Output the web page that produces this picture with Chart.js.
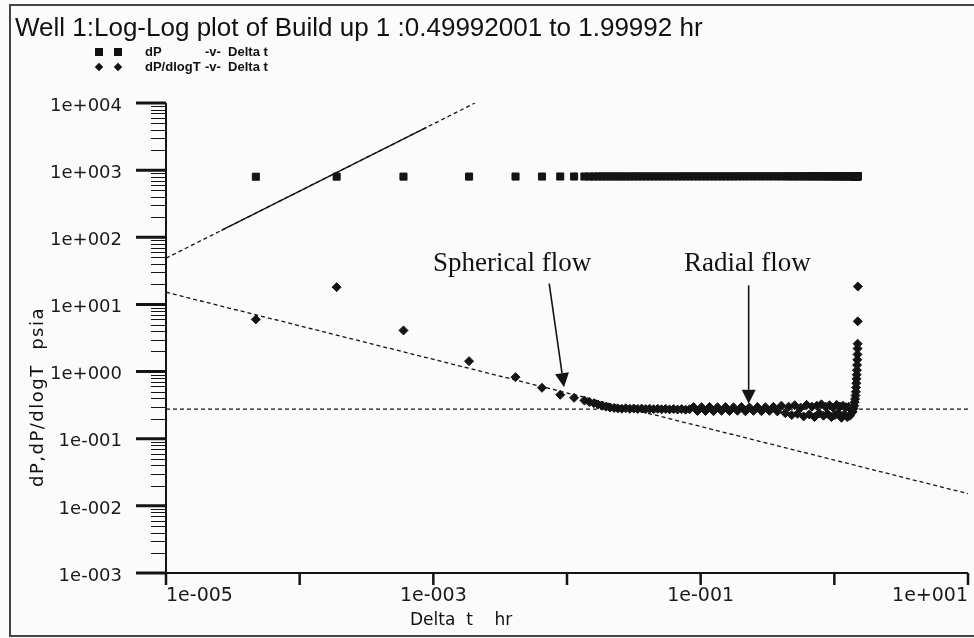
<!DOCTYPE html>
<html lang="en">
<head>
<meta charset="UTF-8">
<title>Well 1 Log-Log plot</title>
<script src="https://cdn.jsdelivr.net/npm/chart.js"></script>
<style>
  html, body { margin: 0; padding: 0; background: #fbfbfb; overflow: hidden; }
  .wrap { position: relative; width: 974px; height: 638px; }
  .frame { position: absolute; left: 9px; top: 4px; width: 990px; height: 633px; border: 2px solid #444; box-sizing: border-box; }
  canvas { position: absolute; left: 0; top: 0; }
  .txt { position: absolute; white-space: pre; color: #111; pointer-events: none; }
  .title { left: 15px; top: 12px; font: 26px/30px "Liberation Sans", Arial, sans-serif; }
  .leg { font: bold 13px/14px "Liberation Sans", Arial, sans-serif; }
  .sq { position: absolute; width: 8px; height: 8px; background: #111; }
  .dm { position: absolute; width: 6px; height: 6px; background: #111; transform: rotate(45deg); }
  .ytitle { left: 36px; top: 397px; transform: translate(-50%, -50%) rotate(-90deg); font: 18px "DejaVu Sans", sans-serif; letter-spacing: 1.5px; }
  .xtitle { left: 410px; top: 609px; font: 17px "DejaVu Sans", sans-serif; }
  .note { font: 27px/27px "Liberation Serif", "Times New Roman", serif; }
</style>
</head>
<body>
<div class="wrap">
  <canvas id="plot" width="974" height="638"></canvas>
  <div class="frame"></div>
  <div class="txt title">Well 1:Log-Log plot of Build up 1 :0.49992001 to 1.99992 hr</div>
  <div class="sq" style="left:95px;top:48px"></div>
  <div class="sq" style="left:114px;top:48px"></div>
  <div class="dm" style="left:96px;top:64px"></div>
  <div class="dm" style="left:115px;top:64px"></div>
  <div class="txt leg" style="left:145px;top:45px">dP</div>
  <div class="txt leg" style="left:205px;top:45px">-v-  Delta t</div>
  <div class="txt leg" style="left:145px;top:60px">dP/dlogT</div>
  <div class="txt leg" style="left:205px;top:60px">-v-  Delta t</div>
  <div class="txt ytitle">dP,dP/dlogT  psia</div>
  <div class="txt xtitle">Delta  t    hr</div>
  <div class="txt note" style="left:433px;top:249px">Spherical flow</div>
  <div class="txt note" style="left:684px;top:249px">Radial flow</div>
</div>
<script>
// Delta t (hr), shared by both series
const deltaT = [
  0.000047, 0.000189, 0.000598, 0.00185, 0.00412, 0.0065, 0.0089, 0.0113,
  0.0135, 0.0147, 0.0159, 0.0171, 0.0183, 0.0196, 0.021, 0.0225, 0.024, 0.0257,
  0.0275, 0.0295, 0.0316, 0.0338, 0.0362, 0.0388, 0.0415, 0.0445, 0.0477, 0.051,
  0.0547, 0.0585, 0.0627, 0.0672, 0.072, 0.0771, 0.0826, 0.0885, 0.0948, 0.1015,
  0.1088, 0.1165, 0.1248, 0.1337, 0.1432, 0.1534, 0.1643, 0.176, 0.1885, 0.2019,
  0.2163, 0.2317, 0.2482, 0.2659, 0.2848, 0.3051, 0.3268, 0.35, 0.3749, 0.4016,
  0.43, 0.455, 0.48, 0.505, 0.53, 0.56, 0.59, 0.62, 0.65, 0.68,
  0.71, 0.74, 0.77, 0.8, 0.83, 0.86, 0.89, 0.92, 0.95, 0.98,
  1.01, 1.04, 1.07, 1.1, 1.13, 1.16, 1.19, 1.22, 1.25, 1.28,
  1.31, 1.34, 1.37, 1.39, 1.41, 1.42, 1.43, 1.44, 1.45, 1.455,
  1.46, 1.465, 1.47, 1.475, 1.48, 1.485, 1.49, 1.492, 1.494, 1.497, 1.5
];
// dP (psia)
const dP = [
  798, 800, 801, 802, 803, 803, 804, 804,
  804, 804, 804, 805, 805, 805, 805, 805, 805, 805,
  805, 805, 806, 806, 806, 806, 806, 806, 806, 806,
  806, 806, 806, 806, 807, 807, 807, 807, 807, 807,
  807, 807, 807, 807, 807, 807, 807, 807, 808, 808,
  808, 808, 808, 808, 808, 808, 808, 808, 808, 808,
  808, 808, 808, 808, 808, 808, 808, 808, 808, 808,
  809, 809, 809, 809, 809, 809, 809, 809, 809, 809,
  809, 809, 809, 809, 809, 809, 809, 809, 809, 809,
  809, 809, 809, 809, 809, 809, 809, 809, 809, 809,
  809, 809, 809, 809, 809, 809, 809, 809, 809, 809, 809
];
// dP/dlogT (psia)
const dPdLogT = [
  5.98, 18.1, 4.1, 1.43, 0.826, 0.574, 0.451, 0.407,
  0.371, 0.352, 0.338, 0.322, 0.31, 0.3, 0.292, 0.287, 0.283, 0.28,
  0.284, 0.279, 0.282, 0.277, 0.281, 0.276, 0.28, 0.275, 0.279, 0.274,
  0.278, 0.273, 0.277, 0.272, 0.276, 0.271, 0.275, 0.296, 0.258, 0.295,
  0.259, 0.297, 0.257, 0.294, 0.26, 0.296, 0.258, 0.293, 0.261, 0.297,
  0.256, 0.292, 0.26, 0.296, 0.257, 0.294, 0.26, 0.298, 0.255, 0.31,
  0.24, 0.3, 0.225, 0.315, 0.235, 0.29, 0.215, 0.32, 0.23, 0.3,
  0.21, 0.31, 0.24, 0.325, 0.22, 0.3, 0.235, 0.315, 0.21, 0.29,
  0.225, 0.32, 0.24, 0.3, 0.205, 0.31, 0.23, 0.295, 0.21, 0.3,
  0.22, 0.27, 0.25, 0.28, 0.31, 0.35, 0.39, 0.44, 0.5, 0.58,
  0.67, 0.78, 0.9, 1.05, 1.25, 1.5, 1.8, 2.2, 2.6, 5.6, 18.5
];

// fitted straight lines, as [t, value] end points
const unitSlopeT = [0.00001, 0.00205];
const unitSlopeV = [48.8, 10000];
const unitSlopeSolidT = [0.000026, 0.00089];
const unitSlopeSolidV = [127, 4340];
const sphericalT = [0.00001, 10];
const sphericalV = [15.2, 0.0152];
const radialT = [0.00001, 10];
const radialV = [0.275, 0.275];

// annotation arrows: tail and tip as [t, value]
const arrowSpherical = [[0.00736, 20.4], [0.0095, 0.586]];
const arrowRadial = [[0.2286, 19.2], [0.2286, 0.331]];

// axis ticks
const xDecades = [1e-5, 1e-4, 1e-3, 1e-2, 1e-1, 1, 10];
const xLabelled = [1e-5, 1e-3, 1e-1, 10];
const yDecades = [1e-3, 1e-2, 1e-1, 1, 10, 100, 1000, 10000];
const minorSteps = [2, 3, 4, 5, 6, 7, 8, 9];

const INK = '#141414';

function sciLabel(v) {
  const e = Math.round(Math.log10(v));
  return '1e' + (e < 0 ? '-' : '+') + String(Math.abs(e)).padStart(3, '0');
}

function pts(xs, ys) {
  return xs.map((x, i) => ({ x: x, y: ys[i] }));
}

function lineSet(xs, ys, dash) {
  return {
    data: pts(xs, ys),
    showLine: true,
    borderColor: INK,
    borderWidth: 1.3,
    borderDash: dash,
    pointRadius: 0
  };
}

// axes drawn by hand: long major ticks, short minor ticks
const axesPlugin = {
  id: 'axes',
  afterDraw(chart) {
    const ctx = chart.ctx;
    const x = chart.scales.x, y = chart.scales.y;
    const left = x.getPixelForValue(xDecades[0]);
    const right = x.getPixelForValue(xDecades[xDecades.length - 1]);
    const bottom = y.getPixelForValue(yDecades[0]);
    const top = y.getPixelForValue(yDecades[yDecades.length - 1]);
    ctx.save();
    ctx.strokeStyle = INK;
    ctx.lineWidth = 2;
    ctx.beginPath();
    ctx.moveTo(left, top);
    ctx.lineTo(left, bottom);
    ctx.moveTo(left - 30, bottom);
    ctx.lineTo(right, bottom);
    ctx.stroke();

    ctx.lineWidth = 3;
    ctx.beginPath();
    yDecades.forEach(v => {
      const py = y.getPixelForValue(v);
      ctx.moveTo(left - 30, py);
      ctx.lineTo(left, py);
    });
    ctx.stroke();

    ctx.lineWidth = 1;
    ctx.beginPath();
    yDecades.slice(0, -1).forEach(v => {
      minorSteps.forEach(m => {
        const py = Math.round(y.getPixelForValue(v * m)) + 0.5;
        ctx.moveTo(left - 15, py);
        ctx.lineTo(left, py);
      });
    });
    ctx.stroke();

    ctx.lineWidth = 2.5;
    ctx.beginPath();
    xDecades.forEach(v => {
      const px = x.getPixelForValue(v);
      ctx.moveTo(px, bottom);
      ctx.lineTo(px, bottom + 12);
    });
    ctx.stroke();
    ctx.restore();
  }
};

const arrowPlugin = {
  id: 'arrows',
  afterDatasetsDraw(chart) {
    const ctx = chart.ctx;
    const x = chart.scales.x, y = chart.scales.y;
    [arrowSpherical, arrowRadial].forEach(a => {
      const x0 = x.getPixelForValue(a[0][0]), y0 = y.getPixelForValue(a[0][1]);
      const x1 = x.getPixelForValue(a[1][0]), y1 = y.getPixelForValue(a[1][1]);
      const ang = Math.atan2(y1 - y0, x1 - x0);
      const len = 14, half = 7;
      const bx = x1 - len * Math.cos(ang), by = y1 - len * Math.sin(ang);
      ctx.save();
      ctx.strokeStyle = INK;
      ctx.fillStyle = INK;
      ctx.lineWidth = 1.6;
      ctx.beginPath();
      ctx.moveTo(x0, y0);
      ctx.lineTo(bx, by);
      ctx.stroke();
      ctx.beginPath();
      ctx.moveTo(x1, y1);
      ctx.lineTo(bx + half * Math.sin(ang), by - half * Math.cos(ang));
      ctx.lineTo(bx - half * Math.sin(ang), by + half * Math.cos(ang));
      ctx.closePath();
      ctx.fill();
      ctx.restore();
    });
  }
};

new Chart(document.getElementById('plot').getContext('2d'), {
  type: 'scatter',
  data: {
    datasets: [
      lineSet(unitSlopeT, unitSlopeV, [4, 3]),
      lineSet(unitSlopeSolidT, unitSlopeSolidV, []),
      lineSet(sphericalT, sphericalV, [4, 3]),
      lineSet(radialT, radialV, [4, 3]),
      {
        label: 'dP -v- Delta t',
        data: pts(deltaT, dP),
        pointStyle: 'rect',
        pointRadius: 5,
        backgroundColor: INK,
        borderColor: INK,
        borderWidth: 1
      },
      {
        label: 'dP/dlogT -v- Delta t',
        data: pts(deltaT, dPdLogT),
        pointStyle: 'rectRot',
        pointRadius: 4.5,
        backgroundColor: INK,
        borderColor: INK,
        borderWidth: 1
      }
    ]
  },
  options: {
    responsive: false,
    animation: false,
    devicePixelRatio: 1,
    layout: { padding: { top: 103, right: 1, left: 0, bottom: 0 } },
    plugins: {
      legend: { display: false },
      title: { display: false },
      tooltip: { enabled: false }
    },
    scales: {
      x: {
        type: 'logarithmic',
        min: 1e-5,
        max: 10,
        grid: { display: false, drawTicks: false },
        border: { display: false },
        afterBuildTicks: s => { s.ticks = xLabelled.map(v => ({ value: v })); },
        afterFit: s => { s.height = 65; s.paddingLeft = 0; s.paddingRight = 0; },
        ticks: {
          align: 'inner',
          padding: 12,
          maxRotation: 0,
          autoSkip: false,
          color: '#1a1a1a',
          font: { family: 'DejaVu Sans', size: 19 },
          callback: v => sciLabel(v)
        }
      },
      y: {
        type: 'logarithmic',
        min: 1e-3,
        max: 1e4,
        grid: { display: false, drawTicks: false },
        border: { display: false },
        afterBuildTicks: s => { s.ticks = yDecades.map(v => ({ value: v })); },
        afterFit: s => { s.width = 166; s.paddingTop = 0; s.paddingBottom = 0; },
        ticks: {
          padding: 44,
          labelOffset: 3,
          autoSkip: false,
          color: '#1a1a1a',
          font: { family: 'DejaVu Sans', size: 18 },
          callback: v => sciLabel(v)
        }
      }
    }
  },
  plugins: [axesPlugin, arrowPlugin]
});
</script>
</body>
</html>
